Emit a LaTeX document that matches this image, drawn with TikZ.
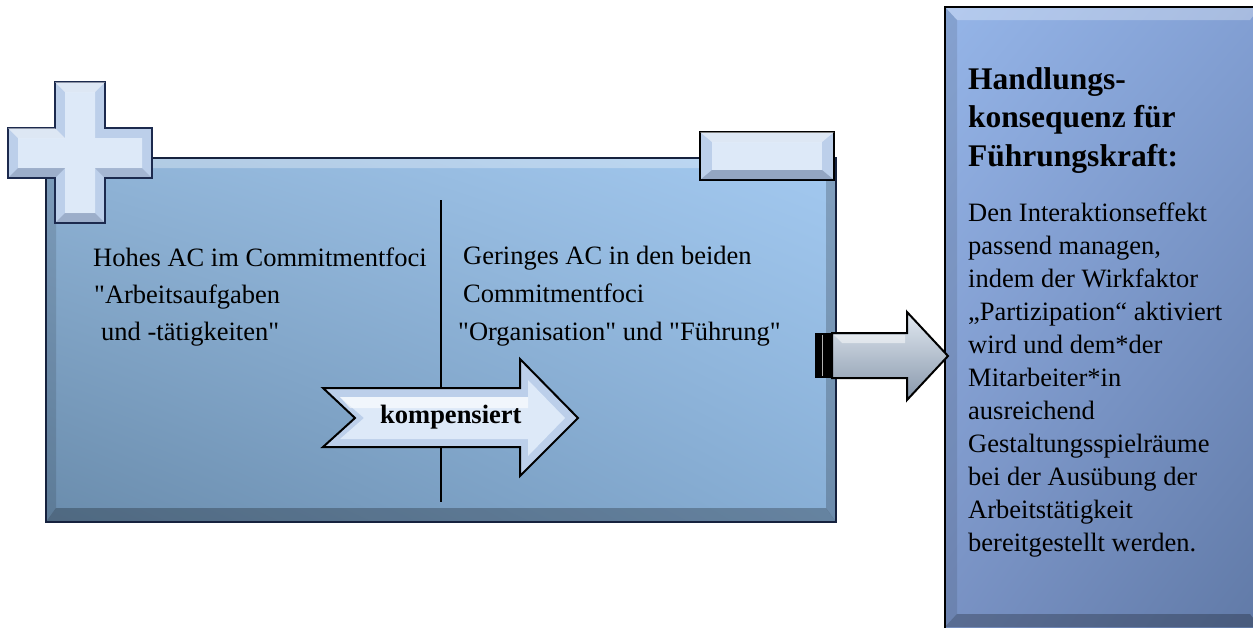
\documentclass[tikz,border=0pt]{standalone}
\usepackage{fontspec}
\setmainfont{Liberation Serif}[Ligatures=TeXOff]
\usetikzlibrary{shadings}
\begin{document}
\begin{tikzpicture}[x=1pt,y=-1pt,
  body/.style={font=\fontsize{26.5}{33}\selectfont, inner sep=0pt, anchor=base west},
  head/.style={font=\bfseries\fontsize{31.5}{36}\selectfont, inner sep=0pt, anchor=base west},
  edge/.style={draw=black, line width=2pt, line join=miter},
  lite/.style={fill=white, fill opacity=0.3, draw=none},
  dark/.style={fill=black, fill opacity=0.25, draw=none}]
\useasboundingbox (0,0) rectangle (1253,627);
\definecolor{mainUL}{HTML}{8FB3D6}
\definecolor{mainUR}{HTML}{A3C9F0}
\definecolor{mainLL}{HTML}{6A8CAC}
\definecolor{mainLR}{HTML}{88AFD6}
\definecolor{rbUL}{HTML}{95B5E8}
\definecolor{rbUR}{HTML}{829FD3}
\definecolor{rbLL}{HTML}{7891C3}
\definecolor{rbLR}{HTML}{6079A6}
\definecolor{keyOut}{HTML}{BCCFEA}
\definecolor{keyIn}{HTML}{DDE9F8}
\definecolor{navy}{HTML}{1C2A4E}
\definecolor{arrTop}{HTML}{E2E9F1}
\definecolor{arrBot}{HTML}{8797AB}

% main box
\shade[upper left=mainUL, upper right=mainUR, lower left=mainLL, lower right=mainLR]
  (46,158) rectangle (836,522);
\path[lite] (46,158) -- (836,158) -- (826,168) -- (56,168) -- cycle;
\path[dark] (46,522) -- (836,522) -- (826,508) -- (56,508) -- cycle;
\path[dark, fill opacity=0.12] (46,158) -- (56,168) -- (56,508) -- (46,522) -- cycle;
\path[dark, fill opacity=0.2] (836,158) -- (826,168) -- (826,508) -- (836,522) -- cycle;
\draw[draw=navy!80!black, line width=1.5pt] (46,158) rectangle (836,522);
\node[inner sep=0pt] (mainbox) at (441,340) {};

% divider
\coordinate (divtop) at (441,200);
\coordinate (divbot) at (441,502);
\draw[line width=2.5pt] (divtop) -- (divbot);

% kompensiert arrow
\draw[edge, fill=keyOut] (323,388) -- (520,388) -- (520,359) -- (578,418) -- (520,476) -- (520,447) -- (323,447) -- (355,418) -- cycle;
\path[fill=keyIn] (340,397) -- (528,397) -- (528,380) -- (565,418) -- (528,456) -- (528,439) -- (340,439) -- (364,418) -- cycle;
\path[fill=white, opacity=0.6] (340,397) -- (528,397) -- (528,408) -- (350,408) -- cycle;
\node[font=\bfseries\fontsize{26.5}{30}\selectfont, inner sep=0pt, anchor=base west] (komp) at (380,423) {kompensiert};

% plus
\draw[draw=navy, line width=2pt, fill=keyOut]
  (55,82) -- (105,82) -- (105,128) -- (152,128) -- (152,178) -- (105,178) -- (105,223) -- (55,223) -- (55,178) -- (8,178) -- (8,128) -- (55,128) -- cycle;
\path[fill=keyIn]
  (65,92) -- (95,92) -- (95,138) -- (142,138) -- (142,168) -- (95,168) -- (95,213) -- (65,213) -- (65,168) -- (18,168) -- (18,138) -- (65,138) -- cycle;
\path[fill=white, opacity=0.5] (55,82) -- (105,82) -- (95,92) -- (65,92) -- cycle;
\path[fill=white, opacity=0.5] (8,128) -- (55,128) -- (65,138) -- (18,138) -- cycle;
\path[fill=navy, opacity=0.2] (55,223) -- (105,223) -- (95,213) -- (65,213) -- cycle;
\path[fill=navy, opacity=0.2] (8,178) -- (55,178) -- (65,168) -- (18,168) -- cycle;
\path[fill=navy, opacity=0.15] (105,178) -- (152,178) -- (142,168) -- (95,168) -- cycle;
\node[inner sep=0pt] (plus) at (80,152) {};

% minus
\draw[draw=black, line width=2pt, fill=keyOut] (700,132) rectangle (834,180);
\path[fill=keyIn] (712,142) rectangle (822,170);
\path[fill=white, opacity=0.5] (700,132) -- (834,132) -- (822,142) -- (712,142) -- cycle;
\path[fill=navy, opacity=0.25] (700,180) -- (834,180) -- (822,170) -- (712,170) -- cycle;
\node[inner sep=0pt] (minus) at (767,156) {};

% left texts
\node[body] (l1) at (93,266) {Hohes AC im Commitmentfoci};
\node[body] (l2) at (94,303) {"Arbeitsaufgaben};
\node[body] (l3) at (101,340) {und -tätigkeiten"};
\node[body] (r1) at (463,264) {Geringes AC in den beiden};
\node[body] (r2) at (463,302) {Commitmentfoci};
\node[body] (r3) at (458,340) {"Organisation" und "Führung"};

% right box
\shade[upper left=rbUL, upper right=rbUR, lower left=rbLL, lower right=rbLR]
  (945,7) rectangle (1260,640);
\path[lite] (945,7) -- (1260,7) -- (1250,20) -- (957,20) -- cycle;
\path[dark] (945,627) -- (1260,627) -- (1250,614) -- (957,614) -- cycle;
\path[dark, fill opacity=0.1] (945,7) -- (957,20) -- (957,614) -- (945,627) -- cycle;
\draw[draw=black, line width=2pt] (1262,7) -- (945,7) -- (945,640);
\node[inner sep=0pt] (rightbox) at (1100,317) {};

\node[head] (h1) at (968,89) {Handlungs-};
\node[head] (h2) at (968,127) {konsequenz für};
\node[head] (h3) at (968,166) {Führungskraft:};

\foreach \t [count=\i from 0] in {Den Interaktionseffekt, {passend managen,}, indem der Wirkfaktor, „Partizipation“ aktiviert, wird und dem*der, Mitarbeiter*in, ausreichend, Gestaltungsspielräume, bei der Ausübung der, Arbeitstätigkeit, bereitgestellt werden.}
  \node[body] (b\i) at (968,221+33*\i) {\t};

% right arrow
\fill[black] (815,333) rectangle (832,378);
\draw[gray!60, line width=1pt] (822,335) -- (822,376);
\draw[edge, top color=arrTop, bottom color=arrBot]
  (832,333) -- (907,333) -- (907,312) -- (948,356) -- (907,400) -- (907,378) -- (832,378) -- cycle;
\path[fill=white, opacity=0.5] (834,335) -- (905,335) -- (905,343) -- (842,343) -- cycle;
\coordinate (arrowtip) at (948,356);
\end{tikzpicture}
\end{document}
